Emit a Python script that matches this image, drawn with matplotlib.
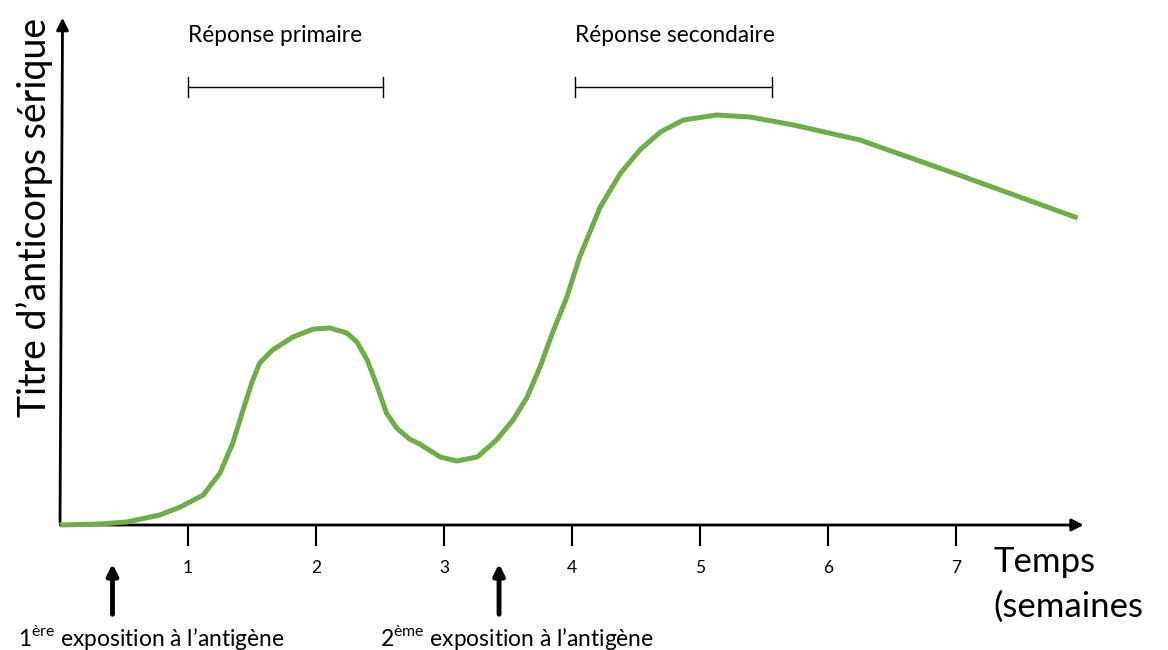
import matplotlib.pyplot as plt

plt.rcParams['font.family'] = ['Lato', 'DejaVu Sans']
plt.rcParams['mathtext.fontset'] = 'custom'
plt.rcParams['mathtext.rm'] = 'Lato'

# courbe (semaines, titre relatif)
semaines = [0.0, 0.31, 0.52, 0.78, 0.94, 1.12, 1.25, 1.35, 1.43, 1.50, 1.56, 1.66,
            1.82, 1.98, 2.11, 2.24, 2.32, 2.40, 2.48, 2.55, 2.63, 2.73, 2.81, 2.97,
            3.10, 3.26, 3.41, 3.54, 3.65, 3.75, 3.85, 3.96, 4.06, 4.22, 4.38, 4.53,
            4.69, 4.87, 5.13, 5.39, 5.73, 6.25, 6.98, 7.95]
titre = [0.0, 0.01, 0.03, 0.10, 0.18, 0.30, 0.52, 0.82, 1.15, 1.43, 1.62, 1.75,
         1.88, 1.96, 1.97, 1.92, 1.83, 1.65, 1.38, 1.12, 0.97, 0.86, 0.81, 0.68,
         0.64, 0.68, 0.85, 1.05, 1.28, 1.58, 1.93, 2.28, 2.68, 3.18, 3.52, 3.75,
         3.93, 4.05, 4.10, 4.08, 4.00, 3.85, 3.52, 3.07]
graduations = [1, 2, 3, 4, 5, 6, 7]
expositions = [0.41, 3.43]
expo_labels = [r'1$^{\mathrm{ère}}$ exposition à l’antigène',
               r'2$^{\mathrm{ème}}$ exposition à l’antigène']
reponses = ['Réponse primaire', 'Réponse secondaire']
reponse_debut = [1.0, 4.02]
reponse_fin = [2.52, 5.56]

fig = plt.figure(figsize=(11.68, 6.5), dpi=100)
ax = fig.add_axes([0, 0, 1, 1])
ax.set_xlim(-60 / 128, (1168 - 60) / 128)
ax.set_ylim(-1.25, 5.25)
ax.axis('off')

# axes avec flèches
ax.annotate('', xy=(0.02, 5.10), xytext=(0, 0),
            arrowprops=dict(arrowstyle='-|>', color='black', lw=2, mutation_scale=18))
ax.annotate('', xy=(8.02, 0.0), xytext=(-0.02, 0),
            arrowprops=dict(arrowstyle='-|>', color='black', lw=2, mutation_scale=18))

for g in graduations:
    ax.plot([g, g], [0, -0.2], color='black', lw=1.5)
    ax.text(g, -0.43, str(g), ha='center', va='center', fontsize=12.5)

ax.plot(semaines, titre, color='#70AD47', lw=3.6, solid_capstyle='butt',
        solid_joinstyle='round', zorder=3)

# réponses
for nom, d, f in zip(reponses, reponse_debut, reponse_fin):
    ax.plot([d, f], [4.38, 4.38], color='black', lw=1)
    ax.plot([d, d], [4.28, 4.48], color='black', lw=1)
    ax.plot([f, f], [4.28, 4.48], color='black', lw=1)
    ax.text(d, 4.90, nom, ha='left', va='center', fontsize=16.3)

# expositions
for xe, lab, xt in zip(expositions, expo_labels, [-0.33, 2.50]):
    ax.annotate('', xy=(xe, -0.36), xytext=(xe, -0.92),
                arrowprops=dict(arrowstyle='-|>', color='black', lw=3.5, mutation_scale=16))
    ax.text(xt, -1.12, lab, ha='left', va='center', fontsize=16.4)

ax.text(7.29, -0.37, 'Temps', ha='left', va='center', fontsize=25)
ax.text(7.29, -0.82, '(semaines', ha='left', va='center', fontsize=25)
ax.text(-0.20, 3.08, 'Titre d’anticorps sérique', rotation=90, ha='center',
        va='center', fontsize=27)

fig.savefig('out.png', dpi=100)
